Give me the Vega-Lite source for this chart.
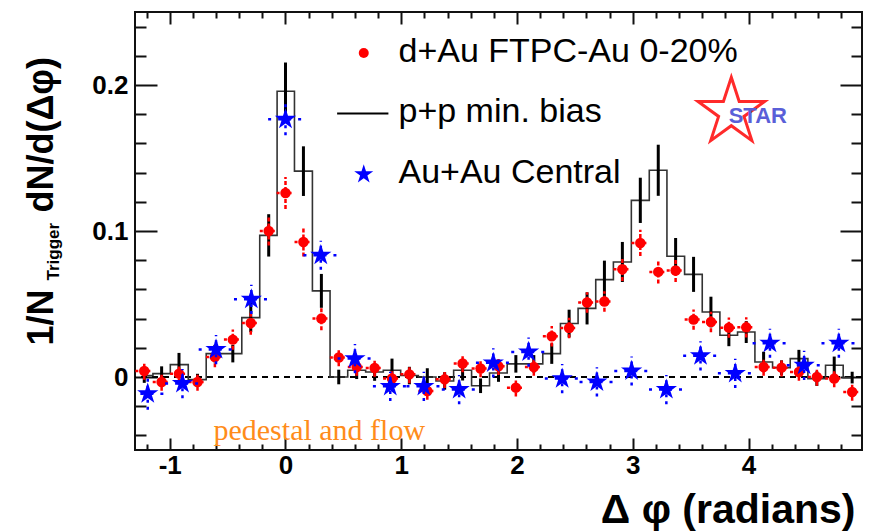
{
  "$schema": "https://vega.github.io/schema/vega-lite/v6.json",
  "width": 727,
  "height": 438,
  "autosize": {"type": "none"},
  "padding": {"left": 135, "top": 12, "right": 10, "bottom": 81},
  "background": "white",
  "config": {
    "view": {"stroke": "#111", "strokeWidth": 2},
    "axis": {"domain": false, "grid": false, "tickColor": "#111", "labelColor": "#000", "titleColor": "#000", "labelFont": "Liberation Sans", "titleFont": "Liberation Sans"}
  },
  "datasets": {
    "dau": [
      {"x": -1.22, "y": 0.0041, "err": 0.006, "xerr": 0.077}, {"x": -1.07, "y": -0.0034, "err": 0.006, "xerr": 0.077},
      {"x": -0.92, "y": 0.0023, "err": 0.006, "xerr": 0.077}, {"x": -0.76, "y": -0.0034, "err": 0.006, "xerr": 0.077},
      {"x": -0.61, "y": 0.0137, "err": 0.007, "xerr": 0.077}, {"x": -0.455, "y": 0.0256, "err": 0.007, "xerr": 0.077},
      {"x": -0.3, "y": 0.037, "err": 0.008, "xerr": 0.077}, {"x": -0.145, "y": 0.1, "err": 0.01, "xerr": 0.077},
      {"x": 0.0, "y": 0.126, "err": 0.011, "xerr": 0.077}, {"x": 0.155, "y": 0.0925, "err": 0.01, "xerr": 0.077},
      {"x": 0.31, "y": 0.04, "err": 0.008, "xerr": 0.077}, {"x": 0.46, "y": 0.0133, "err": 0.006, "xerr": 0.077},
      {"x": 0.615, "y": 0.0068, "err": 0.006, "xerr": 0.077}, {"x": 0.77, "y": 0.0062, "err": 0.006, "xerr": 0.077},
      {"x": 0.92, "y": -0.001, "err": 0.006, "xerr": 0.077}, {"x": 1.07, "y": 0.0018, "err": 0.006, "xerr": 0.077},
      {"x": 1.225, "y": -0.0096, "err": 0.006, "xerr": 0.077}, {"x": 1.375, "y": -0.0016, "err": 0.006, "xerr": 0.077},
      {"x": 1.53, "y": 0.0092, "err": 0.006, "xerr": 0.077}, {"x": 1.685, "y": 0.0058, "err": 0.006, "xerr": 0.077},
      {"x": 1.84, "y": 0.0073, "err": 0.006, "xerr": 0.077}, {"x": 1.99, "y": -0.0073, "err": 0.006, "xerr": 0.077},
      {"x": 2.145, "y": 0.0068, "err": 0.006, "xerr": 0.077}, {"x": 2.3, "y": 0.0279, "err": 0.007, "xerr": 0.077},
      {"x": 2.45, "y": 0.0336, "err": 0.007, "xerr": 0.077}, {"x": 2.605, "y": 0.051, "err": 0.007, "xerr": 0.077},
      {"x": 2.755, "y": 0.0517, "err": 0.007, "xerr": 0.077}, {"x": 2.91, "y": 0.0738, "err": 0.008, "xerr": 0.077},
      {"x": 3.065, "y": 0.0918, "err": 0.009, "xerr": 0.077}, {"x": 3.22, "y": 0.072, "err": 0.008, "xerr": 0.077},
      {"x": 3.37, "y": 0.073, "err": 0.008, "xerr": 0.077}, {"x": 3.525, "y": 0.0393, "err": 0.007, "xerr": 0.077},
      {"x": 3.675, "y": 0.0377, "err": 0.007, "xerr": 0.077}, {"x": 3.83, "y": 0.0338, "err": 0.007, "xerr": 0.077},
      {"x": 3.98, "y": 0.034, "err": 0.007, "xerr": 0.077}, {"x": 4.13, "y": 0.0068, "err": 0.006, "xerr": 0.077},
      {"x": 4.285, "y": 0.0064, "err": 0.006, "xerr": 0.077}, {"x": 4.435, "y": 0.0034, "err": 0.006, "xerr": 0.077},
      {"x": 4.59, "y": 0.0, "err": 0.006, "xerr": 0.077}, {"x": 4.74, "y": -0.0011, "err": 0.006, "xerr": 0.077},
      {"x": 4.895, "y": -0.0103, "err": 0.006, "xerr": 0.077}
    ],
    "pp": [
      {"x": -1.22, "y": 0.001, "err": 0.005}, {"x": -1.07, "y": 0.0023, "err": 0.005},
      {"x": -0.92, "y": 0.0085, "err": 0.008}, {"x": -0.76, "y": -0.0018, "err": 0.004},
      {"x": -0.61, "y": 0.016, "err": 0.006}, {"x": -0.455, "y": 0.016, "err": 0.006},
      {"x": -0.3, "y": 0.0407, "err": 0.01}, {"x": -0.145, "y": 0.097, "err": 0.0145},
      {"x": 0.0, "y": 0.1957, "err": 0.0197}, {"x": 0.155, "y": 0.141, "err": 0.017},
      {"x": 0.31, "y": 0.059, "err": 0.0116}, {"x": 0.46, "y": 0.0, "err": 0.005},
      {"x": 0.615, "y": 0.0046, "err": 0.006}, {"x": 0.77, "y": 0.0034, "err": 0.006},
      {"x": 0.92, "y": 0.0046, "err": 0.008}, {"x": 1.07, "y": 0.001, "err": 0.006},
      {"x": 1.225, "y": 0.0, "err": 0.006}, {"x": 1.375, "y": -0.0027, "err": 0.006},
      {"x": 1.53, "y": 0.0046, "err": 0.007}, {"x": 1.685, "y": -0.006, "err": 0.005},
      {"x": 1.84, "y": 0.0027, "err": 0.006}, {"x": 1.99, "y": 0.009, "err": 0.006},
      {"x": 2.145, "y": 0.009, "err": 0.006}, {"x": 2.3, "y": 0.016, "err": 0.007},
      {"x": 2.45, "y": 0.0366, "err": 0.0095}, {"x": 2.605, "y": 0.047, "err": 0.011},
      {"x": 2.755, "y": 0.0667, "err": 0.013}, {"x": 2.91, "y": 0.0788, "err": 0.0137},
      {"x": 3.065, "y": 0.121, "err": 0.0155}, {"x": 3.22, "y": 0.1416, "err": 0.0175},
      {"x": 3.37, "y": 0.0827, "err": 0.0125}, {"x": 3.525, "y": 0.0703, "err": 0.012},
      {"x": 3.675, "y": 0.0445, "err": 0.0105}, {"x": 3.83, "y": 0.0286, "err": 0.0075},
      {"x": 3.98, "y": 0.0308, "err": 0.0075}, {"x": 4.13, "y": 0.0103, "err": 0.007},
      {"x": 4.285, "y": 0.0064, "err": 0.005}, {"x": 4.435, "y": 0.0126, "err": 0.006},
      {"x": 4.59, "y": -0.0011, "err": 0.005}, {"x": 4.74, "y": 0.008, "err": 0.006},
      {"x": 4.895, "y": -0.0004, "err": 0.004}
    ],
    "auau": [
      {"x": -1.19, "y": -0.0114, "err": 0.011, "xerr": 0.15}, {"x": -0.89, "y": -0.0045, "err": 0.01, "xerr": 0.15},
      {"x": -0.6, "y": 0.0188, "err": 0.01, "xerr": 0.15}, {"x": -0.295, "y": 0.0532, "err": 0.01, "xerr": 0.15},
      {"x": 0.0, "y": 0.1765, "err": 0.011, "xerr": 0.15}, {"x": 0.305, "y": 0.0834, "err": 0.01, "xerr": 0.15},
      {"x": 0.6, "y": 0.0126, "err": 0.01, "xerr": 0.15}, {"x": 0.905, "y": -0.0064, "err": 0.01, "xerr": 0.15},
      {"x": 1.195, "y": -0.0064, "err": 0.01, "xerr": 0.15}, {"x": 1.5, "y": -0.0086, "err": 0.01, "xerr": 0.15},
      {"x": 1.795, "y": 0.0097, "err": 0.01, "xerr": 0.15}, {"x": 2.1, "y": 0.0171, "err": 0.01, "xerr": 0.15},
      {"x": 2.39, "y": -0.0011, "err": 0.01, "xerr": 0.15}, {"x": 2.69, "y": -0.0034, "err": 0.01, "xerr": 0.15},
      {"x": 2.99, "y": 0.0041, "err": 0.01, "xerr": 0.15}, {"x": 3.29, "y": -0.0086, "err": 0.01, "xerr": 0.15},
      {"x": 3.585, "y": 0.0145, "err": 0.01, "xerr": 0.15}, {"x": 3.885, "y": 0.0025, "err": 0.01, "xerr": 0.15},
      {"x": 4.185, "y": 0.0231, "err": 0.01, "xerr": 0.15}, {"x": 4.48, "y": 0.008, "err": 0.01, "xerr": 0.15},
      {"x": 4.78, "y": 0.0231, "err": 0.01, "xerr": 0.15}
    ]
  },
  "resolve": {"axis": {"x": "independent", "y": "independent"}},
  "layer": [
    {
      "data": {"values": [{}]},
      "mark": {"type": "rule", "color": "#000", "strokeWidth": 2, "strokeDash": [6, 5]},
      "encoding": {
        "y": {"datum": 0, "type": "quantitative", "scale": {"domain": [-0.05, 0.25], "nice": false, "zero": false}, "axis": null}
      }
    },
    {
      "data": {"name": "pp"},
      "mark": {"type": "line", "interpolate": "step", "color": "#333", "strokeWidth": 1.6},
      "encoding": {
        "x": {"field": "x", "type": "quantitative", "scale": {"domain": [-1.3, 4.98], "nice": false, "zero": false},
          "axis": {"orient": "bottom", "values": [-1, 0, 1, 2, 3, 4], "labelExpr": "'' + datum.value", "ticks": false, "tickSize": 0, "labelPadding": 2, "labelFontSize": 26, "labelFontWeight": "bold",
            "title": "Δ φ (radians)", "titleFontSize": 41, "titleFontWeight": "bold", "titleX": 720, "titleY": 72, "titleAlign": "right", "titleBaseline": "alphabetic"}},
        "y": {"field": "y", "type": "quantitative", "scale": {"domain": [-0.05, 0.25], "nice": false, "zero": false},
          "axis": {"orient": "left", "values": [0, 0.1, 0.2], "labelExpr": "'' + datum.value", "ticks": false, "tickSize": 0, "labelPadding": 7, "labelFontSize": 26, "labelFontWeight": "bold",
            "title": "1/N", "titleFontSize": 36, "titleFontWeight": "bold", "titleAngle": 270, "titleX": -83, "titleY": 333, "titleAlign": "left", "titleBaseline": "alphabetic"}}
      }
    },
    {
      "data": {"name": "pp"},
      "mark": {"type": "errorbar", "color": "#000", "thickness": 3},
      "encoding": {
        "x": {"field": "x", "type": "quantitative", "scale": {"domain": [-1.3, 4.98], "nice": false, "zero": false}, "axis": null},
        "y": {"field": "y", "type": "quantitative", "scale": {"domain": [-0.05, 0.25], "nice": false, "zero": false}, "axis": null},
        "yError": {"field": "err"}
      }
    },
    {
      "data": {"name": "dau"},
      "mark": {"type": "errorbar", "color": "#ff0000", "thickness": 2.5, "rule": {"strokeDash": [4, 2]}},
      "encoding": {
        "x": {"field": "x", "type": "quantitative", "scale": {"domain": [-1.3, 4.98], "nice": false, "zero": false}, "axis": null},
        "y": {"field": "y", "type": "quantitative", "scale": {"domain": [-0.05, 0.25], "nice": false, "zero": false}, "axis": null},
        "yError": {"field": "err"}
      }
    },
    {
      "data": {"name": "dau"},
      "mark": {"type": "errorbar", "color": "#ff0000", "thickness": 2.5, "clip": true, "rule": {"strokeDash": [3, 3]}},
      "encoding": {
        "x": {"field": "x", "type": "quantitative", "scale": {"domain": [-1.3, 4.98], "nice": false, "zero": false}, "axis": null},
        "y": {"field": "y", "type": "quantitative", "scale": {"domain": [-0.05, 0.25], "nice": false, "zero": false}, "axis": null},
        "xError": {"field": "xerr"}
      }
    },
    {
      "data": {"name": "dau"},
      "mark": {"type": "point", "shape": "circle", "filled": true, "color": "#ff0000", "opacity": 1, "size": 110},
      "encoding": {
        "x": {"field": "x", "type": "quantitative", "scale": {"domain": [-1.3, 4.98], "nice": false, "zero": false},
          "axis": {"orient": "bottom", "values": [-1, 0, 1, 2, 3, 4], "labels": false, "tickSize": -12, "tickWidth": 2, "title": null}},
        "y": {"field": "y", "type": "quantitative", "scale": {"domain": [-0.05, 0.25], "nice": false, "zero": false},
          "axis": {"orient": "left", "values": [0, 0.1, 0.2], "labels": false, "tickSize": -22, "tickWidth": 2,
            "title": "Trigger", "titleFontSize": 17, "titleFontWeight": "bold", "titleAngle": 270, "titleX": -77, "titleY": 268, "titleAlign": "left", "titleBaseline": "alphabetic"}}
      }
    },
    {
      "data": {"name": "auau"},
      "mark": {"type": "errorbar", "color": "#0000ff", "thickness": 2.5, "rule": {"strokeDash": [3, 4]}},
      "encoding": {
        "x": {"field": "x", "type": "quantitative", "scale": {"domain": [-1.3, 4.98], "nice": false, "zero": false}, "axis": null},
        "y": {"field": "y", "type": "quantitative", "scale": {"domain": [-0.05, 0.25], "nice": false, "zero": false}, "axis": null},
        "yError": {"field": "err"}
      }
    },
    {
      "data": {"name": "auau"},
      "mark": {"type": "errorbar", "color": "#0000ff", "thickness": 2.5, "clip": true, "rule": {"strokeDash": [3, 7]}},
      "encoding": {
        "x": {"field": "x", "type": "quantitative", "scale": {"domain": [-1.3, 4.98], "nice": false, "zero": false}, "axis": null},
        "y": {"field": "y", "type": "quantitative", "scale": {"domain": [-0.05, 0.25], "nice": false, "zero": false}, "axis": null},
        "xError": {"field": "xerr"}
      }
    },
    {
      "data": {"name": "auau"},
      "mark": {"type": "point", "shape": "M0,-1L0.225,-0.309L0.951,-0.309L0.363,0.118L0.588,0.809L0,0.382L-0.588,0.809L-0.363,0.118L-0.951,-0.309L-0.225,-0.309Z", "filled": true, "color": "#0000ff", "opacity": 1, "size": 500},
      "encoding": {
        "x": {"field": "x", "type": "quantitative", "scale": {"domain": [-1.3, 4.98], "nice": false, "zero": false},
          "axis": {"orient": "bottom", "values": [-1.2, -0.8, -0.6, -0.4, -0.2, 0.2, 0.4, 0.6, 0.8, 1.2, 1.4, 1.6, 1.8, 2.2, 2.4, 2.6, 2.8, 3.2, 3.4, 3.6, 3.8, 4.2, 4.4, 4.6, 4.8], "labels": false, "tickSize": -6, "tickWidth": 2, "title": null}},
        "y": {"field": "y", "type": "quantitative", "scale": {"domain": [-0.05, 0.25], "nice": false, "zero": false},
          "axis": {"orient": "left", "values": [-0.04, -0.02, 0.02, 0.04, 0.06, 0.08, 0.12, 0.14, 0.16, 0.18, 0.22, 0.24], "labels": false, "tickSize": -11, "tickWidth": 2,
            "title": "dN/d(Δφ)", "titleFontSize": 36, "titleFontWeight": "bold", "titleAngle": 270, "titleX": -83, "titleY": 200, "titleAlign": "left", "titleBaseline": "alphabetic"}}
      }
    },
    {
      "data": {"values": [{}]},
      "mark": {"type": "text", "text": "pedestal and flow", "font": "Liberation Serif", "fontSize": 30, "color": "#ff8c1a", "align": "left", "baseline": "alphabetic"},
      "encoding": {
        "x": {"datum": -0.622, "type": "quantitative", "scale": {"domain": [-1.3, 4.98], "nice": false, "zero": false},
          "axis": {"orient": "top", "values": [-1, 0, 1, 2, 3, 4], "labels": false, "tickSize": -12, "tickWidth": 2, "title": null}},
        "y": {"datum": -0.0434, "type": "quantitative", "scale": {"domain": [-0.05, 0.25], "nice": false, "zero": false},
          "axis": {"orient": "right", "values": [0, 0.1, 0.2], "labels": false, "tickSize": -22, "tickWidth": 2, "title": null}}
      }
    },
    {
      "data": {"values": [{}]},
      "mark": {"type": "point", "shape": "circle", "filled": true, "color": "#ff0000", "opacity": 1, "size": 100},
      "encoding": {
        "x": {"datum": 0.676, "type": "quantitative", "scale": {"domain": [-1.3, 4.98], "nice": false, "zero": false},
          "axis": {"orient": "top", "values": [-1.2, -0.8, -0.6, -0.4, -0.2, 0.2, 0.4, 0.6, 0.8, 1.2, 1.4, 1.6, 1.8, 2.2, 2.4, 2.6, 2.8, 3.2, 3.4, 3.6, 3.8, 4.2, 4.4, 4.6, 4.8], "labels": false, "tickSize": -6, "tickWidth": 2, "title": null}},
        "y": {"datum": 0.2219, "type": "quantitative", "scale": {"domain": [-0.05, 0.25], "nice": false, "zero": false},
          "axis": {"orient": "right", "values": [-0.04, -0.02, 0.02, 0.04, 0.06, 0.08, 0.12, 0.14, 0.16, 0.18, 0.22, 0.24], "labels": false, "tickSize": -11, "tickWidth": 2, "title": null}}
      }
    },
    {
      "data": {"values": [{}]},
      "mark": {"type": "rule", "color": "#000", "strokeWidth": 2},
      "encoding": {
        "x": {"datum": 0.446, "type": "quantitative", "scale": {"domain": [-1.3, 4.98], "nice": false, "zero": false}, "axis": null},
        "x2": {"datum": 0.889},
        "y": {"datum": 0.1804, "type": "quantitative", "scale": {"domain": [-0.05, 0.25], "nice": false, "zero": false}, "axis": null}
      }
    },
    {
      "data": {"values": [{}]},
      "mark": {"type": "point", "shape": "M0,-1L0.225,-0.309L0.951,-0.309L0.363,0.118L0.588,0.809L0,0.382L-0.588,0.809L-0.363,0.118L-0.951,-0.309L-0.225,-0.309Z", "filled": true, "color": "#0000ff", "opacity": 1, "size": 400},
      "encoding": {
        "x": {"datum": 0.676, "type": "quantitative", "scale": {"domain": [-1.3, 4.98], "nice": false, "zero": false}, "axis": null},
        "y": {"datum": 0.1388, "type": "quantitative", "scale": {"domain": [-0.05, 0.25], "nice": false, "zero": false}, "axis": null}
      }
    },
    {
      "data": {"values": [{}]},
      "mark": {"type": "text", "text": "d+Au FTPC-Au 0-20%", "font": "Liberation Sans", "fontSize": 34, "color": "#000", "align": "left", "baseline": "alphabetic"},
      "encoding": {
        "x": {"datum": 0.976, "type": "quantitative", "scale": {"domain": [-1.3, 4.98], "nice": false, "zero": false}, "axis": null},
        "y": {"datum": 0.2158, "type": "quantitative", "scale": {"domain": [-0.05, 0.25], "nice": false, "zero": false}, "axis": null}
      }
    },
    {
      "data": {"values": [{}]},
      "mark": {"type": "text", "text": "p+p min. bias", "font": "Liberation Sans", "fontSize": 34, "color": "#000", "align": "left", "baseline": "alphabetic"},
      "encoding": {
        "x": {"datum": 0.976, "type": "quantitative", "scale": {"domain": [-1.3, 4.98], "nice": false, "zero": false}, "axis": null},
        "y": {"datum": 0.1747, "type": "quantitative", "scale": {"domain": [-0.05, 0.25], "nice": false, "zero": false}, "axis": null}
      }
    },
    {
      "data": {"values": [{}]},
      "mark": {"type": "text", "text": "Au+Au Central", "font": "Liberation Sans", "fontSize": 34, "color": "#000", "align": "left", "baseline": "alphabetic"},
      "encoding": {
        "x": {"datum": 0.976, "type": "quantitative", "scale": {"domain": [-1.3, 4.98], "nice": false, "zero": false}, "axis": null},
        "y": {"datum": 0.1327, "type": "quantitative", "scale": {"domain": [-0.05, 0.25], "nice": false, "zero": false}, "axis": null}
      }
    },
    {
      "data": {"values": [{}]},
      "mark": {"type": "point", "shape": "M0,-1L0.225,-0.309L0.951,-0.309L0.363,0.118L0.588,0.809L0,0.382L-0.588,0.809L-0.363,0.118L-0.951,-0.309L-0.225,-0.309Z", "filled": false, "color": "#ff2a2a", "strokeWidth": 3, "opacity": 1, "size": 4900},
      "encoding": {
        "x": {"datum": 3.851, "type": "quantitative", "scale": {"domain": [-1.3, 4.98], "nice": false, "zero": false}, "axis": null},
        "y": {"datum": 0.1813, "type": "quantitative", "scale": {"domain": [-0.05, 0.25], "nice": false, "zero": false}, "axis": null}
      }
    },
    {
      "data": {"values": [{}]},
      "mark": {"type": "text", "text": "STAR", "font": "Liberation Sans", "fontSize": 22, "fontWeight": "bold", "color": "#5a5fd8", "align": "center", "baseline": "middle"},
      "encoding": {
        "x": {"datum": 4.08, "type": "quantitative", "scale": {"domain": [-1.3, 4.98], "nice": false, "zero": false}, "axis": null},
        "y": {"datum": 0.1786, "type": "quantitative", "scale": {"domain": [-0.05, 0.25], "nice": false, "zero": false}, "axis": null}
      }
    }
  ]
}
